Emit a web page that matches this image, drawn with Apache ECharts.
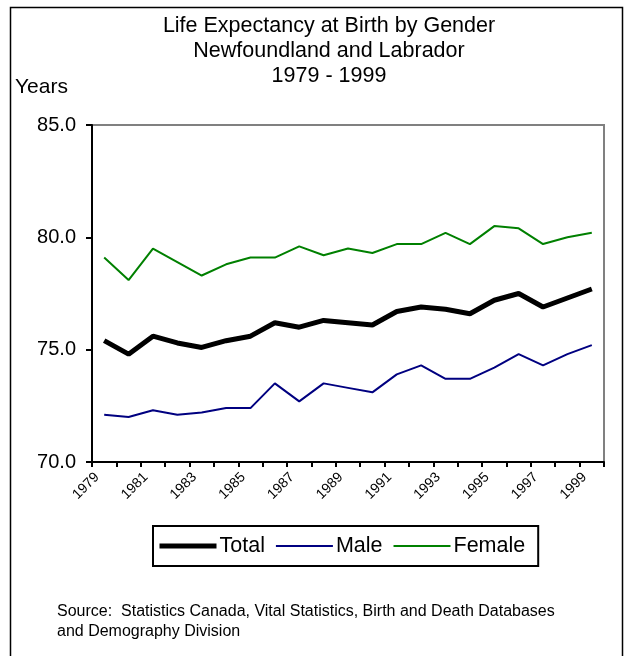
<!DOCTYPE html>
<html>
<head>
<meta charset="utf-8">
<script src="https://cdn.jsdelivr.net/npm/echarts@6/dist/echarts.min.js"></script>
<style>
  html, body { margin: 0; padding: 0; background: #fff; }
  #main { width: 627px; height: 656px; }
</style>
</head>
<body>
<div id="main"></div>
<script>
var years = ['1979', '1980', '1981', '1982', '1983', '1984', '1985', '1986', '1987', '1988', '1989',
  '1990', '1991', '1992', '1993', '1994', '1995', '1996', '1997', '1998', '1999'];
var total = [75.4, 74.8, 75.6, 75.3, 75.1, 75.4, 75.6, 76.2, 76.0, 76.3, 76.2,
  76.1, 76.7, 76.9, 76.8, 76.6, 77.2, 77.5, 76.9, 77.3, 77.7];
var male = [72.1, 72.0, 72.3, 72.1, 72.2, 72.4, 72.4, 73.5, 72.7, 73.5, 73.3,
  73.1, 73.9, 74.3, 73.7, 73.7, 74.2, 74.8, 74.3, 74.8, 75.2];
var female = [79.1, 78.1, 79.5, 78.9, 78.3, 78.8, 79.1, 79.1, 79.6, 79.2, 79.5,
  79.3, 79.7, 79.7, 80.2, 79.7, 80.5, 80.4, 79.7, 80.0, 80.2];
var titleLines = ['Life Expectancy at Birth by Gender', 'Newfoundland and Labrador', '1979 - 1999'];
var sourceLines = ['Source:  Statistics Canada, Vital Statistics, Birth and Death Databases',
  'and Demography Division'];

var font = 'Liberation Sans, Arial, sans-serif';
var myChart = echarts.init(document.getElementById('main'));

// label axis: ticks sit on category boundaries, so labels go there too
var edgeYears = years.concat(['']);

// legend shows plain lines, no marker
var noMarker = { opacity: 0 };

var option = {
  animation: false,
  backgroundColor: '#fff',
  textStyle: { fontFamily: font, color: '#000' },
  graphic: [
    {
      type: 'rect',
      shape: { x: 10.5, y: 7.5, width: 612, height: 700 },
      style: { fill: 'none', stroke: '#000', lineWidth: 1.5 }
    },
    {
      type: 'text', x: 329, y: 14,
      style: { text: titleLines.join('\n'), font: '21.5px ' + font, fill: '#000', align: 'center', lineHeight: 25 }
    },
    {
      type: 'text', x: 15, y: 77,
      style: { text: 'Years', font: '21px ' + font, fill: '#000' }
    },
    {
      type: 'text', x: 57, y: 602,
      style: { text: sourceLines.join('\n'), font: '16px ' + font, fill: '#000', lineHeight: 20 }
    }
  ],
  legend: {
    left: 153, top: 526,
    padding: [9, 13, 9, 4],
    borderColor: '#000', borderWidth: 2,
    itemWidth: 57, itemHeight: 14, itemGap: 10,
    itemStyle: noMarker,
    textStyle: { fontSize: 21.5, color: '#000', padding: [0, 0, 0, -2] },
    data: [
      { name: 'Total', itemStyle: noMarker, lineStyle: { width: 5 } },
      { name: 'Male', itemStyle: noMarker, lineStyle: { width: 2 } },
      { name: 'Female', itemStyle: noMarker, lineStyle: { width: 2 } }
    ]
  },
  grid: { left: 92, right: 23, top: 125, bottom: 194, show: true, borderColor: '#808080', borderWidth: 2, outerBoundsMode: 'none' },
  xAxis: [
    {
      type: 'category', data: years, boundaryGap: true,
      axisLine: { lineStyle: { color: '#000', width: 2 } },
      axisTick: { show: true, interval: 0, length: 5, lineStyle: { color: '#000', width: 2 } },
      axisLabel: { show: false },
      splitLine: { show: false }
    },
    {
      type: 'category', data: edgeYears, boundaryGap: false, position: 'bottom',
      axisLine: { show: false }, axisTick: { show: false }, splitLine: { show: false },
      axisLabel: { rotate: 45, interval: 1, fontSize: 14, color: '#000', margin: 8, verticalAlign: 'top' }
    }
  ],
  yAxis: {
    type: 'value', min: 70, max: 85, interval: 5,
    axisLine: { show: true, lineStyle: { color: '#000', width: 2 } },
    axisTick: { show: true, length: 6, lineStyle: { color: '#000', width: 2 } },
    axisLabel: { fontSize: 20, color: '#000', margin: 16, formatter: function (v) { return v.toFixed(1); } },
    splitLine: { show: false }
  },
  series: [
    { name: 'Total', type: 'line', data: total, symbol: 'none', color: '#000', lineStyle: { width: 5, color: '#000' }, z: 3 },
    { name: 'Male', type: 'line', data: male, symbol: 'none', color: '#000080', lineStyle: { width: 2, color: '#000080' } },
    { name: 'Female', type: 'line', data: female, symbol: 'none', color: '#008000', lineStyle: { width: 2, color: '#008000' } }
  ]
};

myChart.setOption(option);
</script>
</body>
</html>
